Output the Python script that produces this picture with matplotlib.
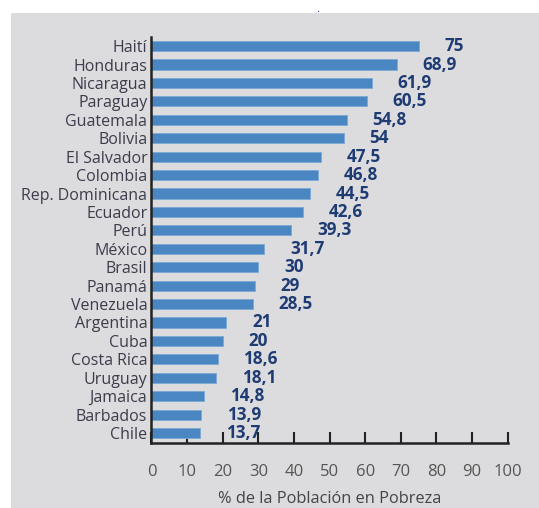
import matplotlib
matplotlib.use("Agg")
import matplotlib.pyplot as plt
import matplotlib.patches as patches

countries = ["Haití", "Honduras", "Nicaragua", "Paraguay", "Guatemala", "Bolivia",
             "El Salvador", "Colombia", "Rep. Dominicana", "Ecuador", "Perú", "México",
             "Brasil", "Panamá", "Venezuela", "Argentina", "Cuba", "Costa Rica",
             "Uruguay", "Jamaica", "Barbados", "Chile"]
values = [75, 68.9, 61.9, 60.5, 54.8, 54, 47.5, 46.8, 44.5, 42.6, 39.3, 31.7,
          30, 29, 28.5, 21, 20, 18.6, 18.1, 14.8, 13.9, 13.7]
labels = ["75", "68,9", "61,9", "60,5", "54,8", "54", "47,5", "46,8", "44,5", "42,6",
          "39,3", "31,7", "30", "29", "28,5", "21", "20", "18,6", "18,1", "14,8",
          "13,9", "13,7"]
xticks = list(range(0, 101, 10))

plt.rcParams['font.family'] = ['Open Sans', 'DejaVu Sans']

BG = '#dcdcde'
fig = plt.figure(figsize=(5.39, 5.08), dpi=100)
fig.patch.set_facecolor('white')
fig.patches.append(patches.Rectangle((11 / 539, 0), 1, 1 - 13 / 508, transform=fig.transFigure,
                                     facecolor=BG, edgecolor='none', zorder=-10))

ax = fig.add_axes([0.281, 0.128, 0.661, 0.799])
ax.set_facecolor(BG)

y = list(range(len(countries)))
ax.barh(y, values, height=0.55, color='#4a86c1', edgecolor='#7aa8d4', linewidth=0.6, zorder=2)

for yi, v, lab in zip(y, values, labels):
    ax.text(v + 7.2, yi, lab, ha='left', va='center', fontsize=12.3, fontweight='bold',
            color='#1f3b73')

ax.set_xlim(0, 100)
ax.set_ylim(21.54, -0.49)
ax.set_yticks(y)
ax.set_yticklabels(countries, fontsize=11.5, color='#3c3c4c')
ax.tick_params(axis='y', length=0, pad=3)
ax.set_xticks(xticks)
ax.tick_params(axis='x', direction='in', length=8, width=1.5, pad=15, labelsize=12,
               labelcolor='#555555', color='#222222')
ax.set_xlabel("% de la Población en Pobreza", fontsize=11.8, color='#444444', labelpad=8)

for s in ['top', 'right']:
    ax.spines[s].set_visible(False)
for s in ['left', 'bottom']:
    ax.spines[s].set_linewidth(1.8)
    ax.spines[s].set_color('#222222')

fig.text(318 / 539, 1 - 15 / 508, ".", color='#1f3b73', fontsize=8, ha='center', va='bottom')

fig.savefig("out.png", dpi=100)
